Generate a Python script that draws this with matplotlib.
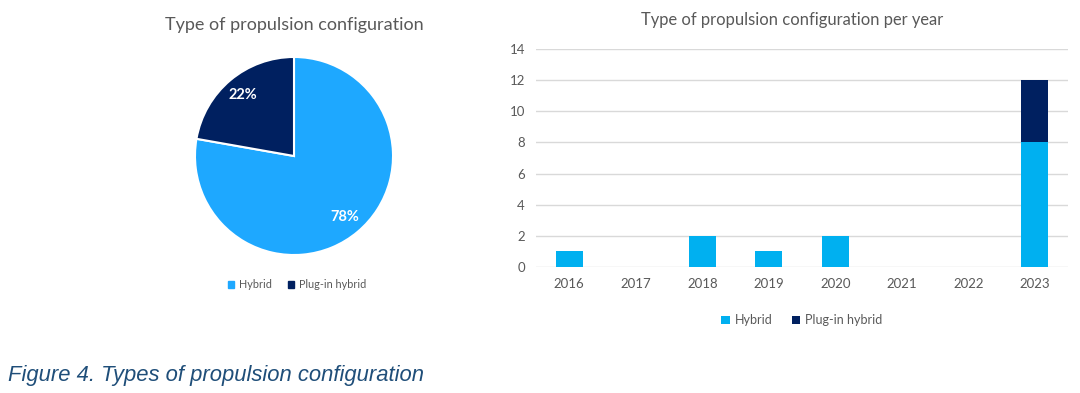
import matplotlib.pyplot as plt
from matplotlib.patches import Patch

# pie data
PIE_LABELS = ["Hybrid", "Plug-in hybrid"]
PIE_VALUES = [14, 4]

# bar data
YEARS = ["2016", "2017", "2018", "2019", "2020", "2021", "2022", "2023"]
HYBRID = [1, 0, 2, 1, 2, 0, 0, 8]
PLUGIN = [0, 0, 0, 0, 0, 0, 0, 4]

GREY = "#595959"
PIE_LIGHT = "#1EA8FF"
BAR_LIGHT = "#00B0F0"
DARK = "#002060"

plt.rcParams["font.family"] = ["Lato", "DejaVu Sans"]

fig = plt.figure(figsize=(10.8, 3.93), dpi=100)

# ----- Pie -----
ax1 = fig.add_axes([193/1080, 136/393, 202/1080, 202/393])
wedges, texts, autotexts = ax1.pie(
    PIE_VALUES, colors=[PIE_LIGHT, DARK], startangle=90, counterclock=False,
    autopct="%1.0f%%", pctdistance=0.8,
    wedgeprops=dict(edgecolor="white", linewidth=1.5),
    textprops=dict(color="white", fontsize=10.5, fontweight="bold"))
ax1.set_xlim(-1.02, 1.02)
ax1.set_ylim(-1.02, 1.02)
fig.text(294/1080, 1 - 25/393, "Type of propulsion configuration",
         ha="center", va="center", fontsize=13, color=GREY)
fig.legend(handles=[Patch(color=PIE_LIGHT, label="Hybrid"),
                    Patch(color=DARK, label="Plug-in hybrid")],
           loc="center", bbox_to_anchor=(297/1080, 1 - 285/393), ncol=2,
           frameon=False, fontsize=7.8, labelcolor=GREY,
           handlelength=0.6, handleheight=0.6, handletextpad=0.4, columnspacing=1.5)

# ----- Stacked bars -----
ax2 = fig.add_axes([536/1080, 126/393, 532/1080, 218/393])
x = range(len(YEARS))
ax2.bar(x, HYBRID, width=0.4, color=BAR_LIGHT, label="Hybrid", zorder=3)
ax2.bar(x, PLUGIN, width=0.4, bottom=HYBRID, color=DARK, label="Plug-in hybrid", zorder=3)
ax2.set_xlim(-0.5, 7.5)
ax2.set_ylim(0, 14)
ax2.set_yticks(range(0, 15, 2))
ax2.set_xticks(list(x))
ax2.set_xticklabels(YEARS)
ax2.grid(axis="y", color="#D9D9D9", linewidth=1, zorder=0)
for s in ax2.spines.values():
    s.set_visible(False)
ax2.tick_params(length=0, colors=GREY, labelsize=9.5, pad=8)
fig.text(792/1080, 1 - 20/393, "Type of propulsion configuration per year",
         ha="center", va="center", fontsize=11.9, color=GREY)
ax2.legend(loc="center", bbox_to_anchor=(0.5, -0.245), ncol=2, frameon=False,
           fontsize=9, labelcolor=GREY,
           handlelength=0.7, handleheight=0.7, handletextpad=0.4, columnspacing=1.5)

fig.text(8/1080, 1 - 376/393, "Figure 4. Types of propulsion configuration",
         ha="left", va="center", fontsize=15.8, style="italic",
         color="#1F4E79", family=["Liberation Sans", "DejaVu Sans"])

fig.savefig("out.png", dpi=100)
